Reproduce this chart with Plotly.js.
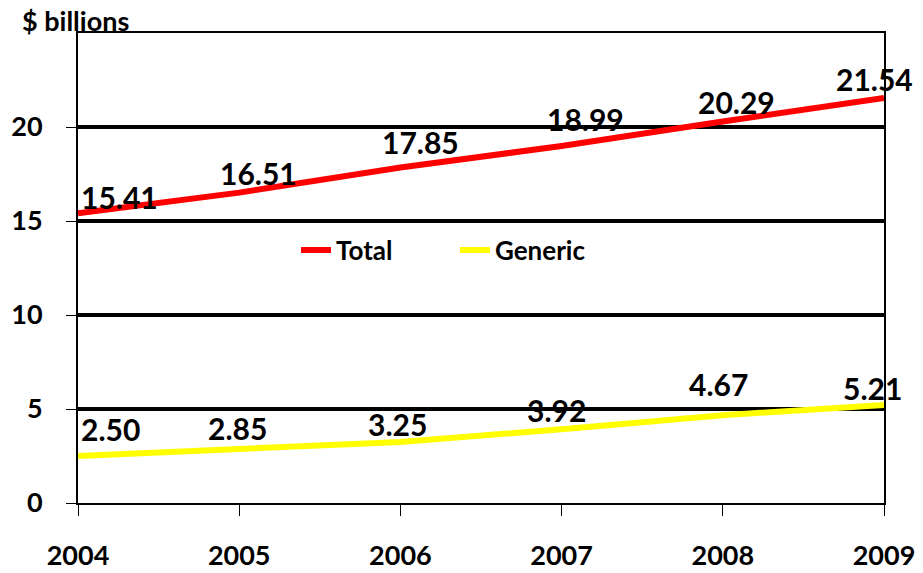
<!DOCTYPE html>
<html>
<head>
<meta charset="utf-8">
<script src="https://cdn.plot.ly/plotly-3.0.1.min.js"></script>
<style>html,body{margin:0;padding:0;background:#fff}#chart{width:923px;height:573px}</style>
</head>
<body>
<div id="chart"></div>
<script>
const years = [2004, 2005, 2006, 2007, 2008, 2009];
const totalValues = [15.41, 16.51, 17.85, 18.99, 20.29, 21.54];
const genericValues = [2.50, 2.85, 3.25, 3.92, 4.67, 5.21];
const seriesNames = ["Total", "Generic"];
const yTickValues = [0, 5, 10, 15, 20];
const yAxisTitle = "$ billions";

// label offsets (pixels) – styling only
const totalLabelShift = [[41, 16], [19, 20], [20, 25], [24, 27], [14, 20], [-10, 19]];
const genericLabelShift = [[32, 27], [-2, 21], [-3, 18], [-5, 19], [-4, 31], [-12, 17]];

const FONT = "Lato, 'Open Sans', sans-serif";

const traces = [
  {x: years, y: totalValues, name: seriesNames[0], mode: "lines", type: "scatter",
   line: {color: "#FF0000", width: 6}, cliponaxis: false},
  {x: years, y: genericValues, name: seriesNames[1], mode: "lines", type: "scatter",
   line: {color: "#FFFF00", width: 6}, cliponaxis: false}
];

const annotations = [];
function addLabels(vals, shifts) {
  vals.forEach((v, i) => {
    annotations.push({x: years[i], y: v, xref: "x", yref: "y", text: v.toFixed(2),
      showarrow: false, xanchor: "center", yanchor: "middle",
      xshift: shifts[i][0], yshift: shifts[i][1],
      font: {family: FONT, size: 30, color: "#000", weight: "bold"}});
  });
}
addLabels(totalValues, totalLabelShift);
addLabels(genericValues, genericLabelShift);

const shapes = [5, 10, 15, 20].map(v => ({type: "line", xref: "paper", yref: "y",
  x0: 0, x1: 1, y0: v, y1: v, line: {color: "#000", width: 4}, layer: "below"}));

const layout = {
  width: 923, height: 573,
  margin: {l: 78, r: 39, t: 33, b: 70},
  paper_bgcolor: "#fff", plot_bgcolor: "#fff",
  font: {family: FONT, color: "#000"},
  title: {text: yAxisTitle, x: 22 / 923, xanchor: "left", xref: "container",
          y: 1 - 22 / 573, yanchor: "middle", yref: "container",
          font: {family: FONT, size: 27, color: "#000", weight: "bold"}},
  xaxis: {range: [2004, 2009], tickvals: years, ticktext: years.map(String),
    showgrid: false, zeroline: false, showline: true, linecolor: "#000", linewidth: 2,
    mirror: true, ticks: "outside", ticklen: 11, tickwidth: 1, tickcolor: "#000",
    ticklabelstandoff: 17,
    tickfont: {family: FONT, size: 27, color: "#000", weight: "bold"}},
  yaxis: {range: [0, 25], tickvals: yTickValues, ticktext: yTickValues.map(String),
    showgrid: false, zeroline: false, showline: true, linecolor: "#000", linewidth: 2,
    mirror: true, ticks: "outside", ticklen: 10, tickwidth: 1, tickcolor: "#000",
    ticklabelstandoff: 18,
    tickfont: {family: FONT, size: 27, color: "#000", weight: "bold"}},
  legend: {orientation: "h", x: (296 - 78) / 806, xanchor: "left",
    y: (503 - 250) / 470, yanchor: "middle", bgcolor: "rgba(0,0,0,0)",
    font: {family: FONT, size: 26, color: "#000", weight: "bold"},
    entrywidth: 114, entrywidthmode: "pixels", itemwidth: 30, tracegroupgap: 0},
  showlegend: true,
  shapes: shapes,
  annotations: annotations
};

Plotly.newPlot("chart", traces, layout, {displayModeBar: false, staticPlot: true});
</script>
</body>
</html>
